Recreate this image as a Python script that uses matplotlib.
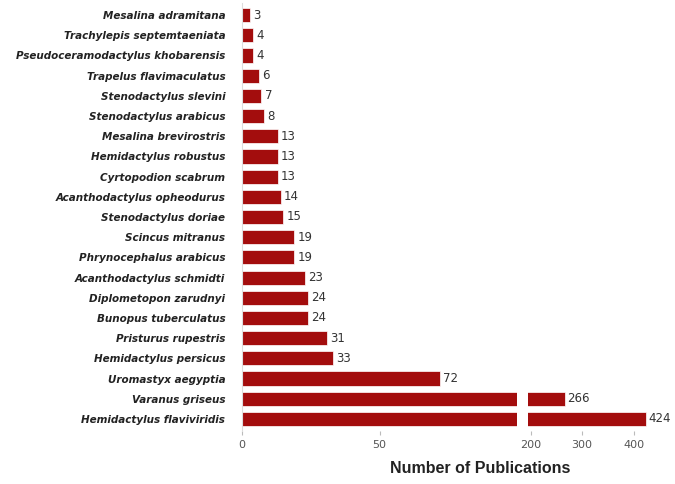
import matplotlib.pyplot as plt
import numpy as np

species = ['Mesalina adramitana', 'Trachylepis septemtaeniata', 'Pseudoceramodactylus khobarensis',
           'Trapelus flavimaculatus', 'Stenodactylus slevini', 'Stenodactylus arabicus',
           'Mesalina brevirostris', 'Hemidactylus robustus', 'Cyrtopodion scabrum',
           'Acanthodactylus opheodurus', 'Stenodactylus doriae', 'Scincus mitranus',
           'Phrynocephalus arabicus', 'Acanthodactylus schmidti', 'Diplometopon zarudnyi',
           'Bunopus tuberculatus', 'Pristurus rupestris', 'Hemidactylus persicus',
           'Uromastyx aegyptia', 'Varanus griseus', 'Hemidactylus flaviviridis']
counts = [3, 4, 4, 6, 7, 8, 13, 13, 13, 14, 15, 19, 19, 23, 24, 24, 31, 33, 72, 266, 424]

bar_color = '#a30d0d'
y = np.arange(len(species))[::-1]

fig = plt.figure(figsize=(6.75, 4.84), dpi=100)
top = 1 - 3 / 484
bottom = 1 - 431 / 484
ax1 = fig.add_axes([242 / 675, bottom, (517 - 242) / 675, top - bottom])
ax2 = fig.add_axes([528 / 675, bottom, (675 - 528) / 675, top - bottom])

ax1.barh(y, counts, height=0.7, color=bar_color, edgecolor='white', linewidth=0.5)
ax2.barh(y, counts, height=0.7, color=bar_color, edgecolor='white', linewidth=0.5)

ax1.set_xlim(0, 100)
ax2.set_xlim(195, 480)
for ax in (ax1, ax2):
    ax.set_ylim(-0.6, len(species) - 0.4)
    for s in ['top', 'right', 'bottom']:
        ax.spines[s].set_visible(False)
    ax.tick_params(axis='x', length=3, color='#bbbbbb', labelsize=8, labelcolor='#555555')

ax1.spines['left'].set_color('#dddddd')
ax2.spines['left'].set_visible(False)
ax2.set_yticks([])
ax1.set_yticks(y)
ax1.set_yticklabels(species, fontsize=7.5, fontstyle='italic', fontweight='bold', color='#222222')
ax1.tick_params(axis='y', length=0, pad=12)
ax1.set_xticks([0, 50])
ax2.set_xticks([200, 300, 400])

for yi, c in zip(y, counts):
    if c < 100:
        ax1.text(c + 1.2, yi, str(c), va='center', ha='left', fontsize=8.5, color='#333333')
    else:
        ax2.text(c + 5, yi, str(c), va='center', ha='left', fontsize=8.5, color='#333333')

fig.text(0.711, 0.022, 'Number of Publications', ha='center', fontsize=11.5,
         fontweight='bold', family=['Liberation Sans', 'DejaVu Sans'], color='#222222')

fig.savefig('out.png', dpi=100)
